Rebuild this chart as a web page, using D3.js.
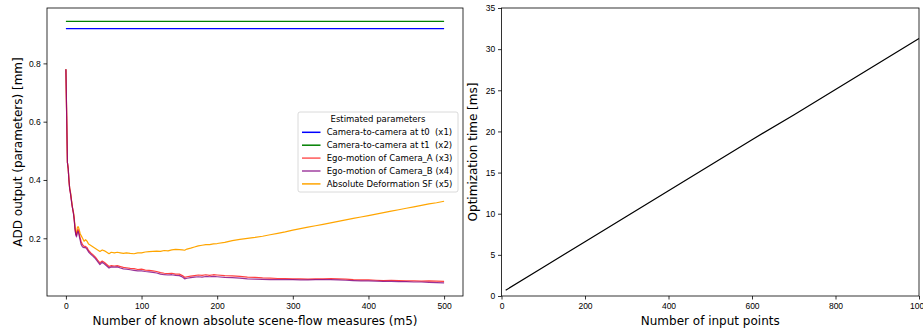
<!DOCTYPE html>
<html>
<head>
<meta charset="utf-8">
<script src="https://cdn.jsdelivr.net/npm/d3@7"></script>
<style>
  body { margin: 0; background: #fff; }
  svg { display: block; font-family: "DejaVu Sans", sans-serif; }
  .tick text { font-size: 8.5px; fill: #000; }
  .tick line { stroke: #000; stroke-width: 0.8; }
  .axis-label { font-size: 12px; fill: #000; }
  .legend text { font-size: 8.5px; fill: #000; white-space: pre; }
</style>
</head>
<body>
<div id="chart"></div>
<script>
// left panel: ADD output vs number of known scene-flow measures
const measures = [0, 1, 2, 3, 4, 5, 6, 7, 8, 9, 10, 11, 12, 13, 14, 15, 16, 17, 18, 19, 20, 22, 24, 26, 28, 30,
  33, 36, 39, 42, 45, 48, 51, 54, 57, 60, 64, 68, 72, 76, 80, 85, 90, 95, 100, 105, 110, 115, 120, 125, 130,
  135, 140, 145, 150, 154, 157, 160, 165, 170, 175, 180, 185, 190, 195, 200, 210, 220, 230, 240, 250, 260,
  270, 280, 290, 300, 310, 320, 330, 340, 350, 360, 370, 380, 390, 400, 410, 420, 430, 440, 450, 460, 470,
  480, 490, 500];

const cam0 = 0.919;   // x1, constant
const cam1 = 0.944;   // x2, constant

const egoA = [0.78, 0.62, 0.46, 0.44, 0.40, 0.37, 0.355, 0.335, 0.315, 0.30, 0.285, 0.265, 0.235, 0.215, 0.21,
  0.225, 0.23, 0.222, 0.21, 0.20, 0.19, 0.178, 0.172, 0.172, 0.168, 0.158, 0.150, 0.143, 0.135, 0.125, 0.116,
  0.122, 0.117, 0.110, 0.103, 0.106, 0.105, 0.106, 0.103, 0.100, 0.099, 0.097, 0.096, 0.093, 0.094, 0.091,
  0.090, 0.088, 0.086, 0.082, 0.080, 0.079, 0.080, 0.077, 0.077, 0.072, 0.066, 0.068, 0.070, 0.072, 0.074,
  0.073, 0.075, 0.073, 0.075, 0.074, 0.072, 0.071, 0.069, 0.067, 0.066, 0.064, 0.063, 0.062, 0.062, 0.061,
  0.061, 0.060, 0.061, 0.061, 0.062, 0.061, 0.060, 0.058, 0.057, 0.057, 0.056, 0.055, 0.056, 0.055, 0.054,
  0.054, 0.053, 0.054, 0.053, 0.052];

const egoB = [0.78, 0.62, 0.46, 0.44, 0.40, 0.37, 0.355, 0.335, 0.315, 0.30, 0.285, 0.262, 0.232, 0.212, 0.205,
  0.218, 0.224, 0.216, 0.203, 0.192, 0.18, 0.170, 0.168, 0.168, 0.162, 0.153, 0.145, 0.138, 0.130, 0.120, 0.110,
  0.118, 0.112, 0.105, 0.098, 0.102, 0.101, 0.102, 0.098, 0.095, 0.094, 0.092, 0.090, 0.088, 0.088, 0.086,
  0.085, 0.083, 0.081, 0.077, 0.075, 0.074, 0.075, 0.073, 0.072, 0.067, 0.061, 0.063, 0.065, 0.067, 0.068,
  0.067, 0.069, 0.068, 0.069, 0.068, 0.066, 0.065, 0.063, 0.061, 0.060, 0.059, 0.058, 0.058, 0.058, 0.058,
  0.057, 0.057, 0.058, 0.058, 0.058, 0.057, 0.056, 0.055, 0.054, 0.054, 0.053, 0.052, 0.052, 0.051, 0.051,
  0.050, 0.050, 0.049, 0.048, 0.047];

const deformSF = [0.78, 0.62, 0.46, 0.44, 0.40, 0.37, 0.36, 0.34, 0.32, 0.30, 0.29, 0.27, 0.24, 0.22, 0.215,
  0.235, 0.24, 0.235, 0.225, 0.215, 0.21, 0.20, 0.19, 0.195, 0.19, 0.18, 0.175, 0.17, 0.165, 0.16, 0.155,
  0.16, 0.157, 0.152, 0.147, 0.152, 0.150, 0.152, 0.150, 0.148, 0.150, 0.148, 0.147, 0.150, 0.150, 0.153,
  0.154, 0.155, 0.156, 0.155, 0.158, 0.157, 0.160, 0.162, 0.161, 0.160, 0.159, 0.163, 0.166, 0.170, 0.174,
  0.176, 0.178, 0.178, 0.181, 0.182, 0.186, 0.192, 0.196, 0.200, 0.203, 0.207, 0.212, 0.217, 0.222, 0.228,
  0.233, 0.238, 0.243, 0.248, 0.253, 0.258, 0.263, 0.268, 0.273, 0.278, 0.283, 0.288, 0.293, 0.298, 0.303,
  0.308, 0.313, 0.318, 0.322, 0.327];

const legendTitle = "Estimated parameters";
const seriesNames = [
  "Camera-to-camera at t0  (x1)",
  "Camera-to-camera at t1  (x2)",
  "Ego-motion of Camera_A (x3)",
  "Ego-motion of Camera_B (x4)",
  "Absolute Deformation SF (x5)"
];
const seriesColors = ["#0000ff", "#008000", "#ff2020", "#800080", "#ffa500"];
const seriesAlpha = [1, 1, 0.85, 0.8, 1];

const leftXTicks = [0, 100, 200, 300, 400, 500];
const leftYTicks = [0.2, 0.4, 0.6, 0.8];

// right panel: optimization time vs number of input points
const inputPoints = [10, 100, 200, 300, 400, 500, 600, 700, 800, 900, 1000];
const optTime = [0.7, 3.5, 6.6, 9.7, 12.8, 15.9, 19.0, 22.0, 25.1, 28.2, 31.3];
const rightXTicks = [0, 200, 400, 600, 800, 1000];
const rightYTicks = [0, 5, 10, 15, 20, 25, 30, 35];

const width = 923;
const height = 332;

const svg = d3.select("#chart").append("svg")
  .attr("width", width)
  .attr("height", height);

const left = { x0: 47, x1: 463, y0: 8, y1: 296 };
const right = { x0: 501.5, x1: 919, y0: 8, y1: 296 };

function drawFrame(box, xScale, yScale, xTicks, yTicks, yFormat) {
  svg.append("g")
    .attr("transform", `translate(0, ${box.y1})`)
    .call(d3.axisBottom(xScale).tickValues(xTicks).tickSize(3.5).tickPadding(3.5).tickFormat(d3.format("d")))
    .call(g => g.select(".domain").remove());

  svg.append("g")
    .attr("transform", `translate(${box.x0}, 0)`)
    .call(d3.axisLeft(yScale).tickValues(yTicks).tickSize(3.5).tickPadding(2.8).tickFormat(yFormat))
    .call(g => g.select(".domain").remove());

  svg.append("rect")
    .attr("x", box.x0)
    .attr("y", box.y0)
    .attr("width", box.x1 - box.x0)
    .attr("height", box.y1 - box.y0)
    .attr("fill", "none")
    .attr("stroke", "#000")
    .attr("stroke-width", 0.8);
}

// ---- left chart
const xL = d3.scaleLinear([-25, 525], [left.x0, left.x1]);
const yL = d3.scaleLinear([0.002, 0.99], [left.y1, left.y0]);

drawFrame(left, xL, yL, leftXTicks, leftYTicks, d3.format(".1f"));

const lineL = d3.line()
  .x(d => xL(d[0]))
  .y(d => yL(d[1]));

const allSeries = [
  measures.map(m => [m, cam0]),
  measures.map(m => [m, cam1]),
  measures.map((m, i) => [m, egoA[i]]),
  measures.map((m, i) => [m, egoB[i]]),
  measures.map((m, i) => [m, deformSF[i]])
];

// draw order: constant lines, then x5, x3, x4 on top
const drawOrder = [0, 1, 4, 2, 3];
drawOrder.forEach(i => {
  svg.append("path")
    .datum(allSeries[i])
    .attr("d", lineL)
    .attr("fill", "none")
    .attr("stroke", seriesColors[i])
    .attr("stroke-opacity", seriesAlpha[i])
    .attr("stroke-width", 1.2)
    .attr("stroke-linejoin", "round");
});

svg.append("text")
  .attr("class", "axis-label")
  .attr("x", (left.x0 + left.x1) / 2)
  .attr("y", 325)
  .attr("text-anchor", "middle")
  .text("Number of known absolute scene-flow measures (m5)");

svg.append("text")
  .attr("class", "axis-label")
  .attr("transform", `translate(22, ${(left.y0 + left.y1) / 2}) rotate(-90)`)
  .attr("text-anchor", "middle")
  .text("ADD output (parameters) [mm]");

// legend
const legend = svg.append("g").attr("class", "legend");
legend.append("rect")
  .attr("x", 298)
  .attr("y", 112)
  .attr("width", 160)
  .attr("height", 80)
  .attr("rx", 2)
  .attr("fill", "#fff")
  .attr("fill-opacity", 0.8)
  .attr("stroke", "#d0d0d0")
  .attr("stroke-width", 0.8);

legend.append("text")
  .attr("x", 378)
  .attr("y", 122)
  .attr("text-anchor", "middle")
  .text(legendTitle);

seriesNames.forEach((name, i) => {
  const yy = 132.3 + i * 12.9;
  legend.append("line")
    .attr("x1", 302)
    .attr("x2", 320.5)
    .attr("y1", yy)
    .attr("y2", yy)
    .attr("stroke", seriesColors[i])
    .attr("stroke-opacity", seriesAlpha[i] < 1 ? 0.75 : 1)
    .attr("stroke-width", 1.5);
  legend.append("text")
    .attr("x", 326.7)
    .attr("y", yy + 3)
    .attr("xml:space", "preserve")
    .text(name);
});

// ---- right chart
const xR = d3.scaleLinear([0, 1000], [right.x0, right.x1]);
const yR = d3.scaleLinear([0, 35], [right.y1, right.y0]);

drawFrame(right, xR, yR, rightXTicks, rightYTicks, d3.format("d"));

svg.append("path")
  .datum(inputPoints.map((p, i) => [p, optTime[i]]))
  .attr("d", d3.line().x(d => xR(d[0])).y(d => yR(d[1])))
  .attr("fill", "none")
  .attr("stroke", "#000")
  .attr("stroke-width", 1.2);

svg.append("text")
  .attr("class", "axis-label")
  .attr("x", (right.x0 + right.x1) / 2)
  .attr("y", 325)
  .attr("text-anchor", "middle")
  .text("Number of input points");

svg.append("text")
  .attr("class", "axis-label")
  .attr("transform", `translate(477, ${(right.y0 + right.y1) / 2}) rotate(-90)`)
  .attr("text-anchor", "middle")
  .text("Optimization time [ms]");
</script>
</body>
</html>
